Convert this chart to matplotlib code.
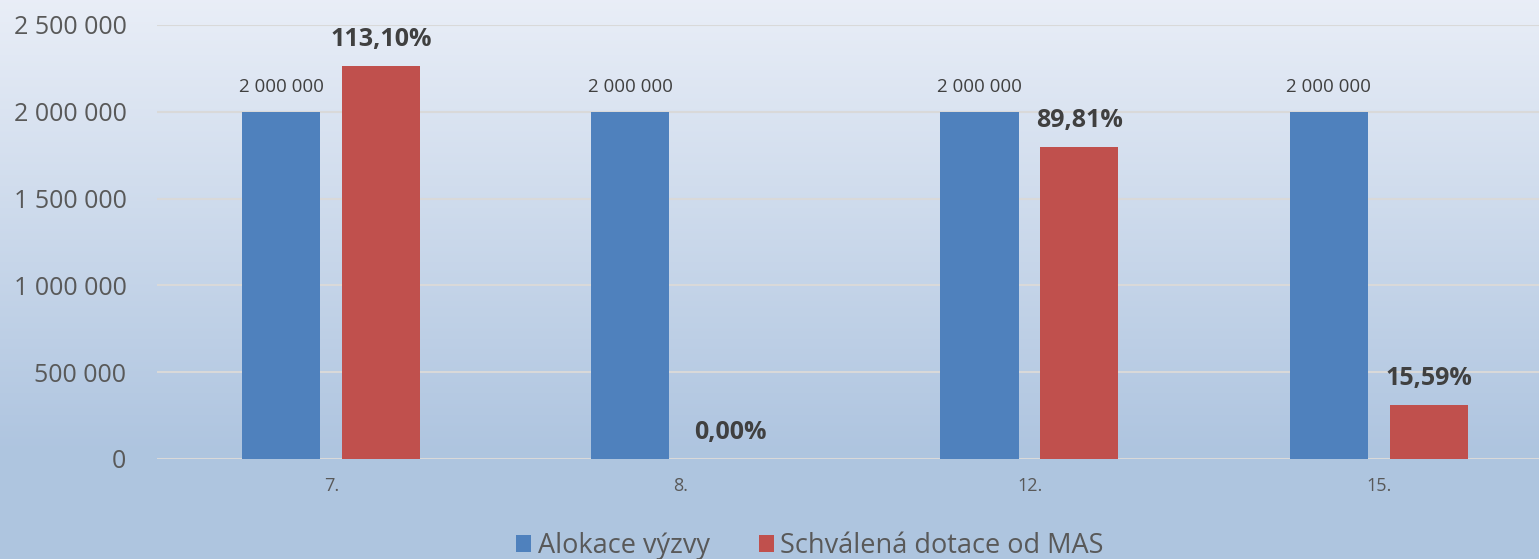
import numpy as np
import matplotlib.pyplot as plt

categories = ["7.", "8.", "12.", "15."]
alokace = [2000000, 2000000, 2000000, 2000000]
schvaleno = [2262000, 0, 1796200, 311800]
procenta = ["113,10%", "0,00%", "89,81%", "15,59%"]

plt.rcParams['font.family'] = ['Open Sans', 'DejaVu Sans']

fig = plt.figure(figsize=(15.39, 5.59), dpi=100)

# gradient background
bg = fig.add_axes([0, 0, 1, 1], zorder=-1)
grad = np.linspace(0, 1, 256).reshape(-1, 1)
grad = np.clip(grad / 0.8, 0, 1)
top = np.array([0.914, 0.933, 0.969])
bottom = np.array([0.686, 0.773, 0.878])
img = top + (bottom - top) * grad[:, :, None]
bg.imshow(img, aspect='auto', extent=[0, 1, 0, 1])
bg.axis('off')

# plot area runs past the right edge of the picture
ax = fig.add_axes([157 / 1539, 1 - 459 / 559, 1397 / 1539, 434 / 559])
ax.patch.set_alpha(0)

x = np.arange(len(categories))
w = 0.224
b1 = ax.bar(x - 0.145, alokace, w, color='#4f81bd', label='Alokace výzvy', zorder=3)
b2 = ax.bar(x + 0.141, schvaleno, w, color='#c0504d', label='Schválená dotace od MAS', zorder=3)

for rect, v in zip(b1, alokace):
    ax.annotate(f"{v:,}".replace(",", " "), (rect.get_x() + rect.get_width() / 2, v),
                xytext=(0, 18), textcoords='offset points', ha='center', va='center',
                fontsize=13.5, color='#404040')
for rect, v, p in zip(b2, schvaleno, procenta):
    ax.annotate(p, (rect.get_x() + rect.get_width() / 2, v),
                xytext=(0, 19), textcoords='offset points', ha='center', va='center',
                fontsize=18, fontweight='bold', color='#404040')

ax.set_xlim(-0.5, 3.5)
ax.set_ylim(0, 2500000)
ax.set_yticks(range(0, 2500001, 500000))
ax.set_yticklabels([f"{v:,}".replace(",", " ") for v in range(0, 2500001, 500000)],
                   fontsize=18, color='#595959')
ax.set_xticks(x)
ax.set_xticklabels(categories, fontsize=13, color='#595959')
ax.tick_params(length=0)
ax.tick_params(axis='y', pad=22)
ax.tick_params(axis='x', pad=13)
ax.grid(axis='y', color='#d9d9d9', lw=1.5, zorder=0)
for s in ax.spines.values():
    s.set_visible(False)

fig.legend(loc='center', bbox_to_anchor=(810 / 1539, 1 - 546 / 559), ncol=2, frameon=False,
           fontsize=19.5, handlelength=0.55, handleheight=0.55, handletextpad=0.25,
           columnspacing=1.8, labelcolor='#595959')

fig.savefig('out.png', dpi=100)
